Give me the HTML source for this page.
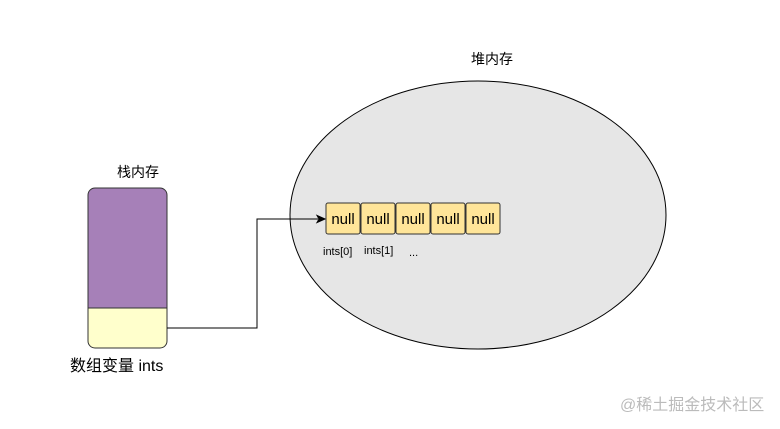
<!DOCTYPE html>
<html><head><meta charset="utf-8"><style>body{margin:0;background:#fff}</style></head><body>
<svg width="780" height="424" xmlns="http://www.w3.org/2000/svg" font-family="Liberation Sans, Noto Sans CJK SC, sans-serif">
<rect width="780" height="424" fill="#fff"/>
<ellipse cx="478" cy="215" rx="188" ry="134" fill="#e6e6e6" stroke="#000" stroke-width="1"/>
<text x="492" y="64" font-size="14" text-anchor="middle">堆内存</text>
<text x="138" y="177" font-size="14" text-anchor="middle">栈内存</text>
<path d="M95,188 H160 a7,7 0 0 1 7,7 V308 H88 V195 a7,7 0 0 1 7,-7Z" fill="#a680b8" stroke="#333"/>
<path d="M88,308 H167 V341 a7,7 0 0 1 -7,7 H95 a7,7 0 0 1 -7,-7Z" fill="#ffffcc" stroke="#333"/>
<text x="70" y="371" font-size="16">数组变量 ints</text>
<path d="M167,328 H257 V219 H318" fill="none" stroke="#000"/>
<path d="M325,219 L317,215.5 L319,219 L317,222.5Z" fill="#000" stroke="#000"/>
<g fill="#ffe599" stroke="#333">
<rect x="326" y="203" width="34" height="31" rx="2"/>
<rect x="361" y="203" width="34" height="31" rx="2"/>
<rect x="396" y="203" width="34" height="31" rx="2"/>
<rect x="431" y="203" width="34" height="31" rx="2"/>
<rect x="466" y="203" width="34" height="31" rx="2"/>
</g>
<g font-size="15" text-anchor="middle">
<text x="343" y="224">null</text><text x="378" y="224">null</text><text x="413" y="224">null</text><text x="448" y="224">null</text><text x="483" y="224">null</text>
</g>
<g font-size="11">
<text x="323" y="255">ints[0]</text><text x="364" y="254">ints[1]</text><text x="409" y="256">...</text>
</g>
<text x="620" y="410" font-size="16" fill="#bbb">@稀土掘金技术社区</text>
</svg>
</body></html>
